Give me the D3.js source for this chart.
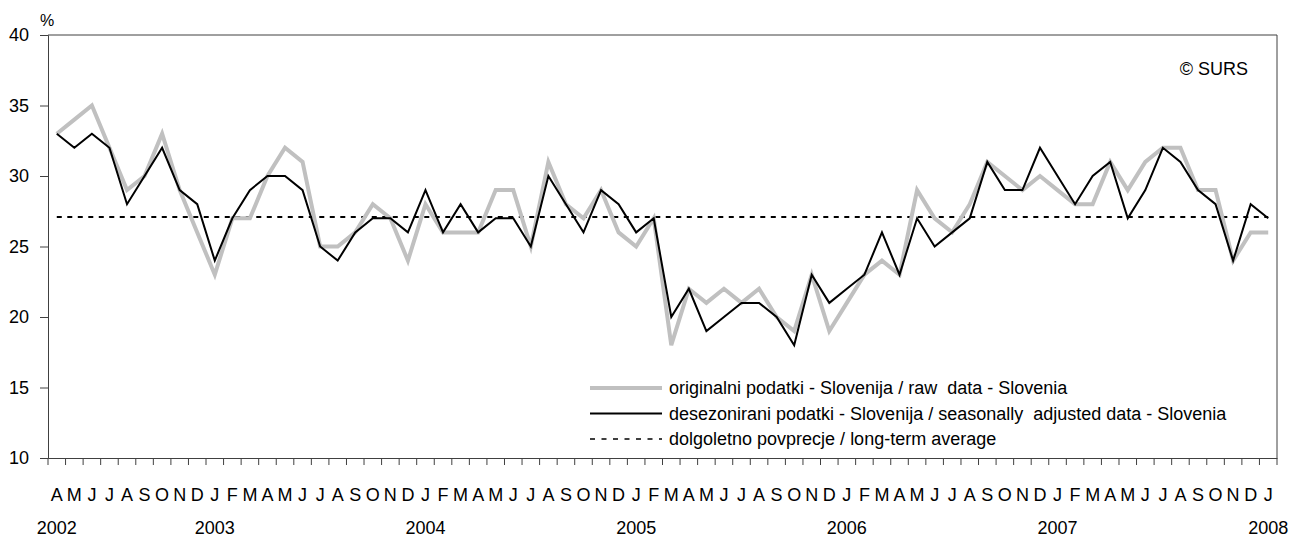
<!DOCTYPE html>
<html>
<head>
<meta charset="utf-8">
<script src="https://cdn.jsdelivr.net/npm/d3@7"></script>
<style>
  body { margin: 0; background: #fff; }
  text { font-family: "Liberation Sans", Arial, sans-serif; fill: #000; }
  .legend text { white-space: pre; }
</style>
</head>
<body>
<div id="chart"></div>
<script>
// month letters and years shown on the x axis
let monthLetters = ["J", "F", "M", "A", "M", "J", "J", "A", "S", "O", "N", "D"];
let years = ["2002", "2003", "2004", "2005", "2006", "2007", "2008"];

// original (raw) data, Apr 2002 - Jan 2008
let rawData = [
  33, 34, 35, 32, 29, 30, 33, 29, 26,
  23, 27, 27, 30, 32, 31, 25, 25, 26, 28, 27, 24,
  28, 26, 26, 26, 29, 29, 25, 31, 28, 27, 29, 26,
  25, 27, 18, 22, 21, 22, 21, 22, 20, 19, 23, 19,
  21, 23, 24, 23, 29, 27, 26, 28, 31, 30, 29, 30,
  29, 28, 28, 31, 29, 31, 32, 32, 29, 29, 24, 26,
  26
];

// seasonally adjusted data
let adjustedData = [
  33, 32, 33, 32, 28, 30, 32, 29, 28,
  24, 27, 29, 30, 30, 29, 25, 24, 26, 27, 27, 26,
  29, 26, 28, 26, 27, 27, 25, 30, 28, 26, 29, 28,
  26, 27, 20, 22, 19, 20, 21, 21, 20, 18, 23, 21,
  22, 23, 26, 23, 27, 25, 26, 27, 31, 29, 29, 32,
  30, 28, 30, 31, 27, 29, 32, 31, 29, 28, 24, 28,
  27
];

let longTermAvg = 27.1;
let yTicks = [10, 15, 20, 25, 30, 35, 40];

let legendLabels = [
  "originalni podatki - Slovenija / raw  data - Slovenia",
  "desezonirani podatki - Slovenija / seasonally  adjusted data - Slovenia",
  "dolgoletno povprecje / long-term average"
];

// build categories: April 2002 .. January 2008
let categories = [];
let m = 3, yr = 2002;
for (let i = 0; i < rawData.length; i++) {
  categories.push({ key: yr + "-" + (m + 1), month: m, year: String(yr) });
  m++;
  if (m > 11) { m = 0; yr++; }
}

let svgWidth = 1299;
let svgHeight = 538;
let margin = { top: 35, right: 22, bottom: 80, left: 48 };
let width = svgWidth - margin.left - margin.right;
let height = svgHeight - margin.top - margin.bottom;

let svg = d3.select("#chart")
  .append("svg")
  .attr("width", svgWidth)
  .attr("height", svgHeight);

let chartGroup = svg.append("g")
  .attr("transform", `translate(${margin.left}, ${margin.top})`);

let x = d3.scaleBand()
  .domain(categories.map(d => d.key))
  .range([0, width]);

let y = d3.scaleLinear()
  .domain([10, 40])
  .range([height, 0]);

let cx = i => x(categories[i].key) + x.bandwidth() / 2;

// plot frame (top and right)
chartGroup.append("path")
  .attr("d", `M0,0H${width}V${height}`)
  .attr("fill", "none")
  .attr("stroke", "#404040")
  .attr("stroke-width", 1);

// y axis
let yAxis = chartGroup.append("g")
  .call(d3.axisLeft(y).tickValues(yTicks).tickSize(8).tickPadding(11));
yAxis.selectAll("text").attr("font-size", "18px").attr("fill", "#000");
yAxis.selectAll("line, path").attr("stroke", "#404040");

// x axis labels (months)
let xAxis = chartGroup.append("g")
  .attr("transform", `translate(0, ${height})`)
  .call(d3.axisBottom(x).tickSize(0).tickPadding(30).tickFormat((d, i) => monthLetters[categories[i].month]));
xAxis.selectAll("text").attr("font-size", "18px").attr("fill", "#000");
xAxis.select(".domain").attr("stroke", "#404040");

// tick marks between months
chartGroup.append("g")
  .selectAll("line")
  .data(categories.map(d => x(d.key)).concat([width]))
  .enter()
  .append("line")
  .attr("x1", d => d)
  .attr("x2", d => d)
  .attr("y1", height)
  .attr("y2", height + 7)
  .attr("stroke", "#404040");

// year labels under first month of each year
chartGroup.append("g")
  .selectAll("text")
  .data(years)
  .enter()
  .append("text")
  .attr("x", d => cx(categories.findIndex(c => c.year === d)))
  .attr("y", height + 76)
  .attr("text-anchor", "middle")
  .attr("font-size", "18px")
  .text(d => d);

// long-term average
chartGroup.append("line")
  .attr("x1", cx(0))
  .attr("x2", cx(categories.length - 1))
  .attr("y1", y(longTermAvg))
  .attr("y2", y(longTermAvg))
  .attr("stroke", "#000")
  .attr("stroke-width", 2)
  .attr("stroke-dasharray", "5,5.5");

let line = d3.line()
  .x((d, i) => cx(i))
  .y(d => y(d));

chartGroup.append("path")
  .datum(rawData)
  .attr("d", line)
  .attr("fill", "none")
  .attr("stroke", "#c0c0c0")
  .attr("stroke-width", 4)
  .attr("stroke-linejoin", "miter");

chartGroup.append("path")
  .datum(adjustedData)
  .attr("d", line)
  .attr("fill", "none")
  .attr("stroke", "#000")
  .attr("stroke-width", 2);

// "%" unit label
svg.append("text")
  .attr("x", 40)
  .attr("y", 26)
  .attr("font-size", "16px")
  .text("%");

// copyright
svg.append("text")
  .attr("x", 1248)
  .attr("y", 75)
  .attr("text-anchor", "end")
  .attr("font-size", "18px")
  .text("© SURS");

// legend
let legendStyles = [
  { stroke: "#c0c0c0", width: 4, dash: null },
  { stroke: "#000", width: 2, dash: null },
  { stroke: "#000", width: 1.5, dash: "5,6.5" }
];
let legend = svg.append("g")
  .attr("class", "legend")
  .attr("transform", "translate(590, 388)");
legendLabels.forEach((label, i) => {
  let row = legend.append("g").attr("transform", `translate(0, ${i * 25.5})`);
  row.append("line")
    .attr("x1", 0).attr("x2", 72)
    .attr("y1", 0).attr("y2", 0)
    .attr("stroke", legendStyles[i].stroke)
    .attr("stroke-width", legendStyles[i].width)
    .attr("stroke-dasharray", legendStyles[i].dash);
  row.append("text")
    .attr("x", 79)
    .attr("y", 6)
    .attr("font-size", "18px")
    .text(label);
});
</script>
</body>
</html>
